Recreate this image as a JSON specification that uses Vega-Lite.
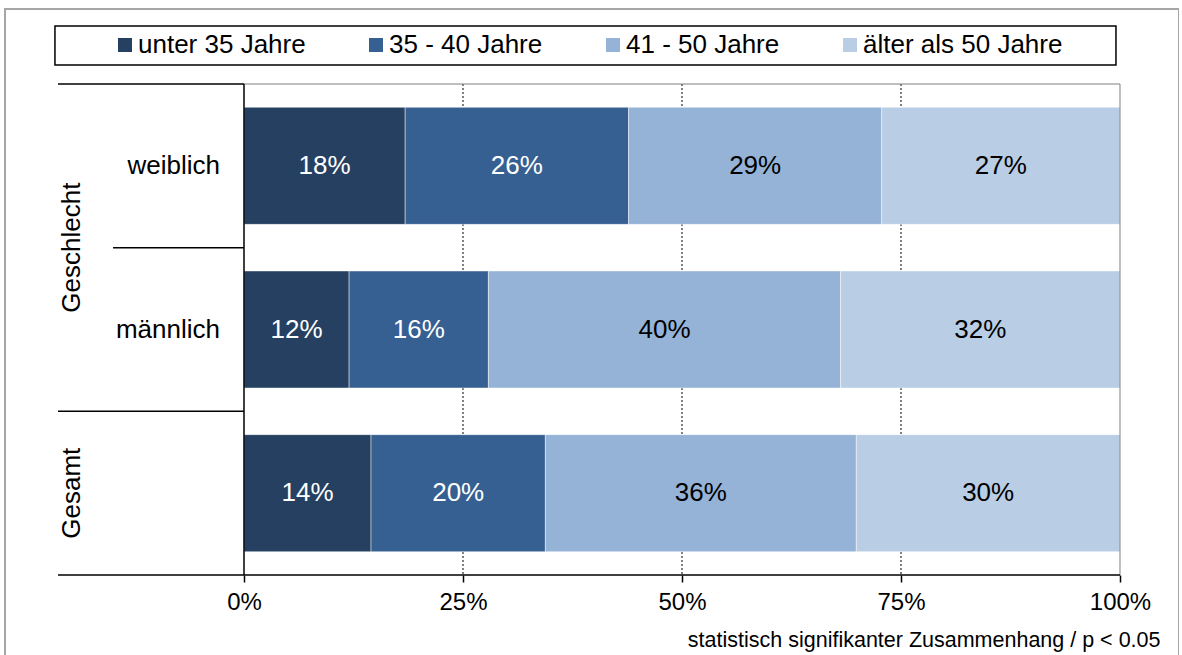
{
  "$schema": "https://vega.github.io/schema/vega-lite/v6.json",
  "width": 1174,
  "height": 660,
  "autosize": "none",
  "padding": {"left": 5, "top": 9, "right": 0, "bottom": 0},
  "background": "white",
  "config": {
    "font": "Liberation Sans",
    "view": {"stroke": "#a6a6a6", "strokeWidth": 2},
    "axisX": {"format": ".0%", "labelFontSize": 24, "labelColor": "black", "labelPadding": 8, "labelFlush": false, "domain": false, "grid": false, "ticks": true, "tickColor": "black", "tickSize": 7, "tickWidth": 1.5, "offset": -94,
      "titleFontSize": 21.5, "titleFontWeight": "normal", "titleColor": "black", "titleAlign": "right", "titleAnchor": "end", "titleX": 1155, "titleY": 71, "titleBaseline": "alphabetic"}
  },
  "datasets": {
    "bars": [
      {"cat": "weiblich", "age": "unter 35 Jahre", "k": 1, "pct": 0.184, "label": "18%"},
      {"cat": "weiblich", "age": "35 - 40 Jahre", "k": 2, "pct": 0.255, "label": "26%"},
      {"cat": "weiblich", "age": "41 - 50 Jahre", "k": 3, "pct": 0.289, "label": "29%"},
      {"cat": "weiblich", "age": "älter als 50 Jahre", "k": 4, "pct": 0.272, "label": "27%"},
      {"cat": "männlich", "age": "unter 35 Jahre", "k": 1, "pct": 0.120, "label": "12%"},
      {"cat": "männlich", "age": "35 - 40 Jahre", "k": 2, "pct": 0.159, "label": "16%"},
      {"cat": "männlich", "age": "41 - 50 Jahre", "k": 3, "pct": 0.402, "label": "40%"},
      {"cat": "männlich", "age": "älter als 50 Jahre", "k": 4, "pct": 0.319, "label": "32%"},
      {"cat": "Gesamt", "age": "unter 35 Jahre", "k": 1, "pct": 0.145, "label": "14%"},
      {"cat": "Gesamt", "age": "35 - 40 Jahre", "k": 2, "pct": 0.199, "label": "20%"},
      {"cat": "Gesamt", "age": "41 - 50 Jahre", "k": 3, "pct": 0.355, "label": "36%"},
      {"cat": "Gesamt", "age": "älter als 50 Jahre", "k": 4, "pct": 0.301, "label": "30%"}
    ],
    "cats": [
      {"cat": "weiblich", "sub": "weiblich"},
      {"cat": "männlich", "sub": "männlich"}
    ],
    "grid": [{"v": 0.25}, {"v": 0.5}, {"v": 0.75}],
    "one": [{}]
  },
  "layer": [
    {
      "data": {"name": "one"},
      "mark": {"type": "rect", "fill": "white", "stroke": "black", "strokeWidth": 1.5},
      "encoding": {
        "x": {"datum": -0.2158, "type": "quantitative", "scale": {"domain": [-0.272831, 1.067352], "nice": false, "zero": false}, "axis": {"values": [0, 0.25, 0.5, 0.75, 1], "title": "statistisch signifikanter Zusammenhang / p < 0.05"}},
        "x2": {"datum": 0.9954},
        "y": {"datum": "weiblich", "type": "nominal", "bandPosition": -0.3544, "scale": {"type": "band", "domain": ["weiblich", "männlich", "Gesamt"], "range": [75, 566], "paddingInner": 0, "paddingOuter": 0}, "axis": null},
        "y2": {"datum": "weiblich", "bandPosition": -0.1161}
      }
    },
    {
      "data": {"name": "grid"},
      "mark": {"type": "rule", "color": "black", "strokeWidth": 1, "strokeDash": [2, 2]},
      "encoding": {
        "x": {"field": "v", "type": "quantitative", "scale": {"domain": [-0.272831, 1.067352], "nice": false, "zero": false}, "axis": {"values": [0, 0.25, 0.5, 0.75, 1], "title": "statistisch signifikanter Zusammenhang / p < 0.05"}},
        "y": {"datum": "weiblich", "type": "nominal", "bandPosition": 0, "scale": {"type": "band", "domain": ["weiblich", "männlich", "Gesamt"], "range": [75, 566], "paddingInner": 0, "paddingOuter": 0}, "axis": null},
        "y2": {"datum": "Gesamt", "bandPosition": 1}
      }
    },
    {
      "data": {"name": "bars"},
      "transform": [
        {"stack": "pct", "groupby": ["cat"], "sort": [{"field": "k", "order": "ascending"}], "as": ["x0", "x1"]}
      ],
      "layer": [
        {
          "mark": {"type": "bar", "height": {"band": 0.715}, "stroke": "white", "strokeOpacity": 0.45, "strokeWidth": 1},
          "encoding": {
            "x": {"field": "x0", "type": "quantitative", "scale": {"domain": [-0.272831, 1.067352], "nice": false, "zero": false}, "axis": {"values": [0, 0.25, 0.5, 0.75, 1], "title": "statistisch signifikanter Zusammenhang / p < 0.05"}},
            "x2": {"field": "x1"},
            "y": {"field": "cat", "type": "nominal", "scale": {"type": "band", "domain": ["weiblich", "männlich", "Gesamt"], "range": [75, 566], "paddingInner": 0, "paddingOuter": 0}, "axis": null},
            "color": {"field": "age", "type": "nominal",
              "scale": {"domain": ["unter 35 Jahre", "35 - 40 Jahre", "41 - 50 Jahre", "älter als 50 Jahre"], "range": ["#254061", "#366092", "#95b3d7", "#b9cde5"]},
              "legend": {"orient": "none", "legendX": 107, "legendY": 23, "direction": "horizontal", "columns": 4, "title": null, "symbolType": "square", "symbolSize": 196, "symbolStrokeWidth": 0, "labelFontSize": 26, "labelOffset": 0, "columnPadding": 57, "padding": 0, "labelColor": "black", "labelLimit": 400}}
          }
        },
        {
          "mark": {"type": "text", "fontSize": 26, "align": "center", "baseline": "middle"},
          "encoding": {
            "x": {"field": "pct", "type": "quantitative", "stack": "zero", "bandPosition": 0.5, "scale": {"domain": [-0.272831, 1.067352], "nice": false, "zero": false}, "axis": {"values": [0, 0.25, 0.5, 0.75, 1], "title": "statistisch signifikanter Zusammenhang / p < 0.05"}},
            "order": {"field": "k", "type": "quantitative"},
            "y": {"field": "cat", "type": "nominal", "scale": {"type": "band", "domain": ["weiblich", "männlich", "Gesamt"], "range": [75, 566], "paddingInner": 0, "paddingOuter": 0}, "axis": null},
            "text": {"field": "label"},
            "color": {"condition": {"test": "datum.k <= 2", "value": "white"}, "value": "black"}
          }
        }
      ]
    },
    {
      "data": {"name": "cats"},
      "mark": {"type": "text", "fontSize": 26, "align": "right", "baseline": "middle", "color": "black"},
      "encoding": {
        "x": {"datum": -0.0274, "type": "quantitative", "scale": {"domain": [-0.272831, 1.067352], "nice": false, "zero": false}, "axis": {"values": [0, 0.25, 0.5, 0.75, 1], "title": "statistisch signifikanter Zusammenhang / p < 0.05"}},
        "y": {"field": "cat", "type": "nominal", "scale": {"type": "band", "domain": ["weiblich", "männlich", "Gesamt"], "range": [75, 566], "paddingInner": 0, "paddingOuter": 0}, "axis": null},
        "text": {"field": "sub"}
      }
    },
    {
      "data": {"name": "one"},
      "mark": {"type": "text", "fontSize": 26, "align": "center", "baseline": "middle", "angle": 270, "color": "black"},
      "encoding": {
        "x": {"datum": -0.1963, "type": "quantitative", "scale": {"domain": [-0.272831, 1.067352], "nice": false, "zero": false}, "axis": {"values": [0, 0.25, 0.5, 0.75, 1], "title": "statistisch signifikanter Zusammenhang / p < 0.05"}},
        "y": {"datum": "männlich", "type": "nominal", "bandPosition": 0, "scale": {"type": "band", "domain": ["weiblich", "männlich", "Gesamt"], "range": [75, 566], "paddingInner": 0, "paddingOuter": 0}, "axis": null},
        "text": {"value": "Geschlecht"}
      }
    },
    {
      "data": {"name": "one"},
      "mark": {"type": "text", "fontSize": 26, "align": "center", "baseline": "middle", "angle": 270, "color": "black"},
      "encoding": {
        "x": {"datum": -0.1963, "type": "quantitative", "scale": {"domain": [-0.272831, 1.067352], "nice": false, "zero": false}, "axis": {"values": [0, 0.25, 0.5, 0.75, 1], "title": "statistisch signifikanter Zusammenhang / p < 0.05"}},
        "y": {"datum": "Gesamt", "type": "nominal", "bandPosition": 0.5, "scale": {"type": "band", "domain": ["weiblich", "männlich", "Gesamt"], "range": [75, 566], "paddingInner": 0, "paddingOuter": 0}, "axis": null},
        "text": {"value": "Gesamt"}
      }
    },
    {
      "data": {"name": "one"},
      "mark": {"type": "rule", "color": "#808080", "strokeWidth": 1},
      "encoding": {
        "x": {"datum": 0, "type": "quantitative", "scale": {"domain": [-0.272831, 1.067352], "nice": false, "zero": false}, "axis": {"values": [0, 0.25, 0.5, 0.75, 1], "title": "statistisch signifikanter Zusammenhang / p < 0.05"}},
        "x2": {"datum": 1},
        "y": {"datum": "weiblich", "type": "nominal", "bandPosition": 0, "scale": {"type": "band", "domain": ["weiblich", "männlich", "Gesamt"], "range": [75, 566], "paddingInner": 0, "paddingOuter": 0}, "axis": null}
      }
    },
    {
      "data": {"name": "one"},
      "mark": {"type": "rule", "color": "#808080", "strokeWidth": 1},
      "encoding": {
        "x": {"datum": 1, "type": "quantitative", "scale": {"domain": [-0.272831, 1.067352], "nice": false, "zero": false}, "axis": {"values": [0, 0.25, 0.5, 0.75, 1], "title": "statistisch signifikanter Zusammenhang / p < 0.05"}},
        "y": {"datum": "weiblich", "type": "nominal", "bandPosition": 0, "scale": {"type": "band", "domain": ["weiblich", "männlich", "Gesamt"], "range": [75, 566], "paddingInner": 0, "paddingOuter": 0}, "axis": null},
        "y2": {"datum": "Gesamt", "bandPosition": 1}
      }
    },
    {
      "data": {"name": "one"},
      "mark": {"type": "rule", "color": "black", "strokeWidth": 1.5},
      "encoding": {
        "x": {"datum": -0.2123, "type": "quantitative", "scale": {"domain": [-0.272831, 1.067352], "nice": false, "zero": false}, "axis": {"values": [0, 0.25, 0.5, 0.75, 1], "title": "statistisch signifikanter Zusammenhang / p < 0.05"}},
        "x2": {"datum": 0},
        "y": {"datum": "weiblich", "type": "nominal", "bandPosition": 0, "scale": {"type": "band", "domain": ["weiblich", "männlich", "Gesamt"], "range": [75, 566], "paddingInner": 0, "paddingOuter": 0}, "axis": null}
      }
    },
    {
      "data": {"name": "one"},
      "mark": {"type": "rule", "color": "black", "strokeWidth": 1.5},
      "encoding": {
        "x": {"datum": -0.1495, "type": "quantitative", "scale": {"domain": [-0.272831, 1.067352], "nice": false, "zero": false}, "axis": {"values": [0, 0.25, 0.5, 0.75, 1], "title": "statistisch signifikanter Zusammenhang / p < 0.05"}},
        "x2": {"datum": 0},
        "y": {"datum": "männlich", "type": "nominal", "bandPosition": 0, "scale": {"type": "band", "domain": ["weiblich", "männlich", "Gesamt"], "range": [75, 566], "paddingInner": 0, "paddingOuter": 0}, "axis": null}
      }
    },
    {
      "data": {"name": "one"},
      "mark": {"type": "rule", "color": "black", "strokeWidth": 1.5},
      "encoding": {
        "x": {"datum": -0.2123, "type": "quantitative", "scale": {"domain": [-0.272831, 1.067352], "nice": false, "zero": false}, "axis": {"values": [0, 0.25, 0.5, 0.75, 1], "title": "statistisch signifikanter Zusammenhang / p < 0.05"}},
        "x2": {"datum": 0},
        "y": {"datum": "Gesamt", "type": "nominal", "bandPosition": 0, "scale": {"type": "band", "domain": ["weiblich", "männlich", "Gesamt"], "range": [75, 566], "paddingInner": 0, "paddingOuter": 0}, "axis": null}
      }
    },
    {
      "data": {"name": "one"},
      "mark": {"type": "rule", "color": "black", "strokeWidth": 1.5},
      "encoding": {
        "x": {"datum": -0.2123, "type": "quantitative", "scale": {"domain": [-0.272831, 1.067352], "nice": false, "zero": false}, "axis": {"values": [0, 0.25, 0.5, 0.75, 1], "title": "statistisch signifikanter Zusammenhang / p < 0.05"}},
        "x2": {"datum": 1},
        "y": {"datum": "Gesamt", "type": "nominal", "bandPosition": 1, "scale": {"type": "band", "domain": ["weiblich", "männlich", "Gesamt"], "range": [75, 566], "paddingInner": 0, "paddingOuter": 0}, "axis": null}
      }
    },
    {
      "data": {"name": "one"},
      "mark": {"type": "rule", "color": "black", "strokeWidth": 1.5},
      "encoding": {
        "x": {"datum": 0, "type": "quantitative", "scale": {"domain": [-0.272831, 1.067352], "nice": false, "zero": false}, "axis": {"values": [0, 0.25, 0.5, 0.75, 1], "title": "statistisch signifikanter Zusammenhang / p < 0.05"}},
        "y": {"datum": "weiblich", "type": "nominal", "bandPosition": 0, "scale": {"type": "band", "domain": ["weiblich", "männlich", "Gesamt"], "range": [75, 566], "paddingInner": 0, "paddingOuter": 0}, "axis": null},
        "y2": {"datum": "Gesamt", "bandPosition": 1}
      }
    }
  ]
}
